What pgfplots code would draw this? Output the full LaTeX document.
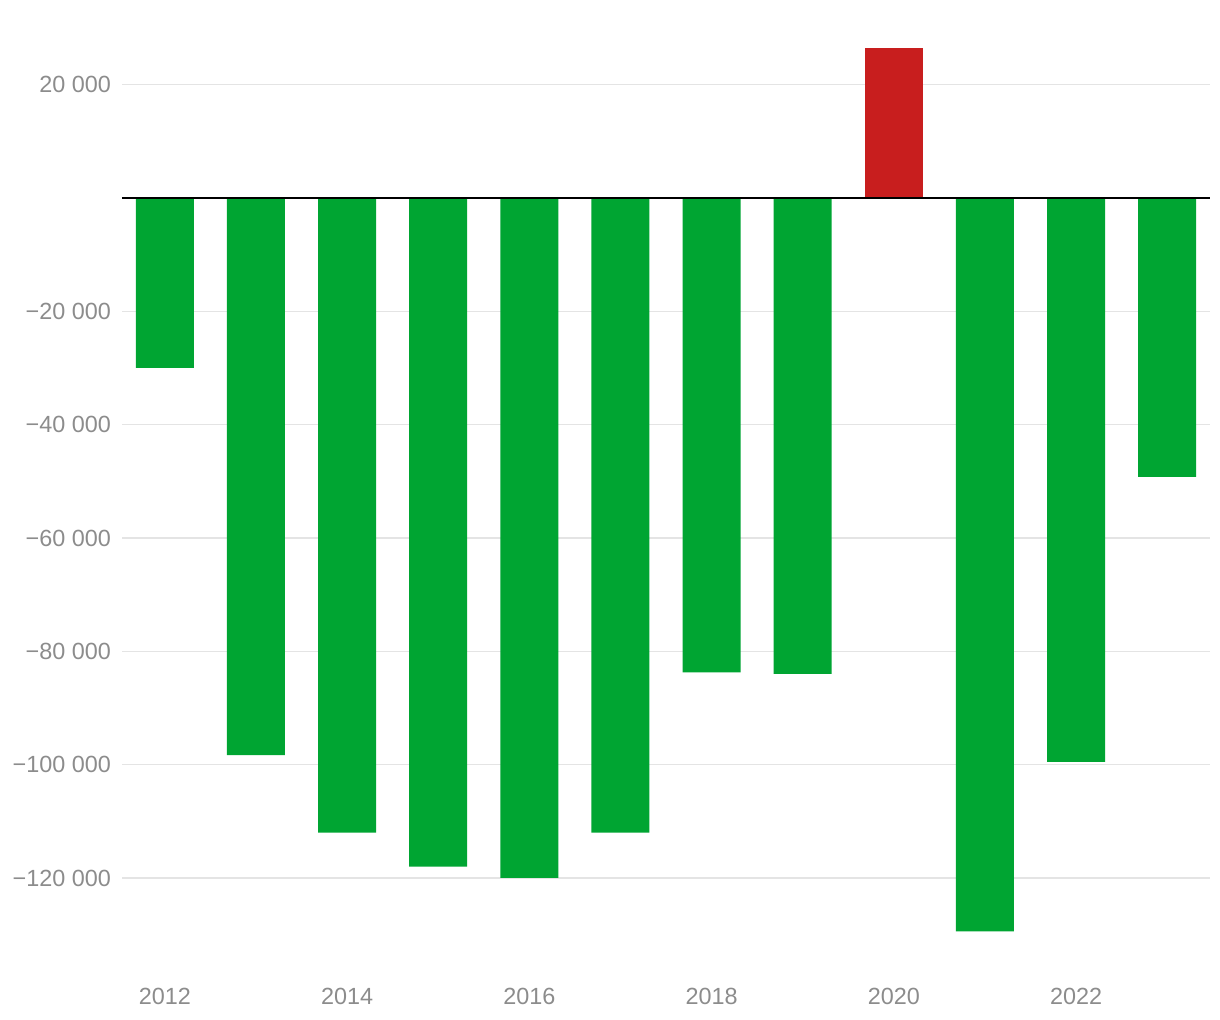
\documentclass[border=0pt]{standalone}
\usepackage{pgfplots}
\pgfplotsset{compat=1.18}
\usepackage{fontspec}
\setmainfont{Liberation Sans}
\definecolor{bargreen}{RGB}{0,165,50}
\definecolor{barred}{RGB}{200,30,30}
\definecolor{lblgray}{RGB}{140,140,140}
\definecolor{gridgray}{RGB}{228,228,228}
\begin{document}
\begin{tikzpicture}
\begin{axis}[
    scale only axis,
    width=544pt, height=459pt,
    xmin=2011.53, xmax=2023.47,
    ymin=-132000, ymax=30000,
    axis line style={draw=none},
    major tick style={draw=none},
    scaled y ticks=false,
    ybar, bar width=29pt,
    xtick={2012,2014,2016,2018,2020,2022},
    xticklabels={2012,2014,2016,2018,2020,2022},
    ytick={-120000,-100000,-80000,-60000,-40000,-20000,20000},
    yticklabels={−120 000,−100 000,−80 000,−60 000,−40 000,−20 000,20 000},
    ymajorgrids,
    grid style={gridgray, line width=0.6pt},
    tick label style={font=\fontsize{11.7}{13}\selectfont, text=lblgray},
    xticklabel style={yshift=-13.5pt},
    yticklabel style={xshift=-2pt},
    every axis plot/.append style={draw=none, bar shift=0pt},
]
\coordinate (bl) at (rel axis cs:0,0);
\addplot[fill=bargreen] coordinates {
    (2012,-30000) (2013,-98300) (2014,-112000) (2015,-118000)
    (2016,-120000) (2017,-112000) (2018,-83700) (2019,-84000)
    (2021,-129400) (2022,-99500) (2023,-49200)
};
\addplot[fill=barred] coordinates {(2020,26500)};
\draw[black, line width=0.9pt] (axis cs:2011.53,0) -- (axis cs:2023.47,0);
\end{axis}
\path[use as bounding box] (bl) ++(-61pt,-37pt) rectangle ++(610pt,510pt);
\end{tikzpicture}
\end{document}
